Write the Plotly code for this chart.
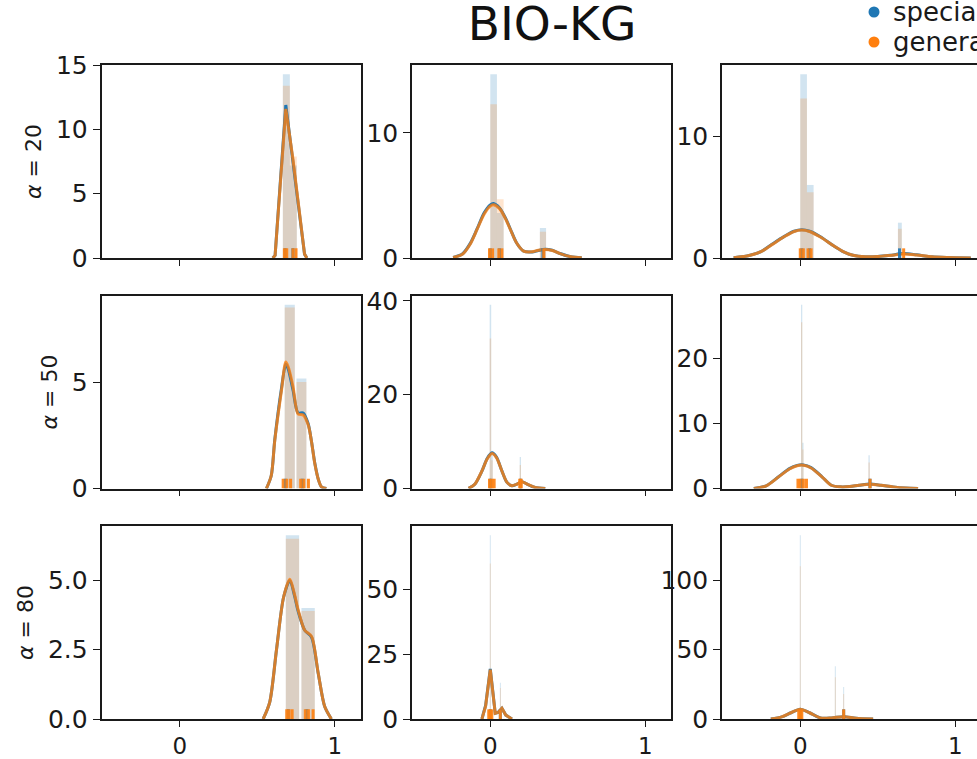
import plotly.graph_objects as go

# ---------------- data ----------------
row_alphas = [20, 50, 80]
group_names = ["specialized", "general"]
x_tick_vals = [0, 1]

# alpha = 20
bins_20_1 = [(0.665, 0.710), (0.710, 0.755)]
spec_hist_20_1 = [14.3, 7.2]
gen_hist_20_1 = [13.4, 7.9]
kde_x_20_1 = [0.600, 0.615, 0.684, 0.730, 0.805, 0.820]
spec_kde_20_1 = [0.0, 0.2, 11.9, 7.5, 0.3, 0.0]
gen_kde_20_1 = [0.0, 0.2, 11.6, 7.7, 0.3, 0.0]
spec_rug_20_1 = [0.680, 0.730]
gen_rug_20_1 = [0.675, 0.690, 0.730, 0.750]

bins_20_2 = [(0.0, 0.043), (0.043, 0.086), (0.32, 0.36)]
spec_hist_20_2 = [14.7, 3.6, 2.4]
gen_hist_20_2 = [12.3, 4.7, 2.1]
kde_x_20_2 = [-0.24, -0.18, -0.13, -0.086, -0.04, 0.0, 0.02, 0.06, 0.10, 0.13,
              0.17, 0.215, 0.27, 0.31, 0.355, 0.40, 0.45, 0.52, 0.59]
spec_kde_20_2 = [0.05, 0.32, 1.15, 2.3, 3.6, 4.25, 4.35, 4.0, 3.15, 2.3,
                 1.2, 0.55, 0.48, 0.6, 0.7, 0.62, 0.36, 0.1, 0.02]
gen_kde_20_2 = [0.05, 0.3, 1.1, 2.26, 3.5, 4.15, 4.26, 3.95, 3.1, 2.26,
                1.2, 0.55, 0.5, 0.62, 0.68, 0.6, 0.35, 0.1, 0.02]
spec_rug_20_2 = [0.0, 0.06, 0.34]
gen_rug_20_2 = [-0.005, 0.015, 0.055, 0.075, 0.345]

bins_20_3 = [(0.0, 0.043), (0.043, 0.086), (0.63, 0.655)]
spec_hist_20_3 = [15.1, 6.0, 2.9]
gen_hist_20_3 = [13.1, 5.4, 2.4]
kde_x_20_3 = [-0.43, -0.33, -0.25, -0.18, -0.10, -0.04, 0.01, 0.06, 0.13, 0.215,
              0.28, 0.34, 0.42, 0.50, 0.58, 0.667, 0.75, 0.85, 0.95, 1.10]
spec_kde_20_3 = [0.02, 0.2, 0.55, 1.15, 1.8, 2.2, 2.32, 2.2, 1.75, 1.0,
                 0.5, 0.22, 0.1, 0.12, 0.22, 0.36, 0.26, 0.1, 0.04, 0.0]
gen_kde_20_3 = [0.02, 0.2, 0.55, 1.12, 1.78, 2.18, 2.3, 2.18, 1.72, 1.0,
                0.5, 0.22, 0.1, 0.12, 0.21, 0.33, 0.25, 0.1, 0.04, 0.0]
spec_rug_20_3 = [0.01, 0.06, 0.64]
gen_rug_20_3 = [0.0, 0.02, 0.05, 0.07, 0.667]

# alpha = 50
bins_50_1 = [(0.677, 0.742), (0.753, 0.817)]
spec_hist_50_1 = [8.63, 5.16]
gen_hist_50_1 = [8.5, 5.0]
kde_x_50_1 = [0.559, 0.59, 0.613, 0.656, 0.684, 0.70, 0.731, 0.763, 0.796,
              0.828, 0.85, 0.871, 0.895, 0.914, 0.946]
spec_kde_50_1 = [0.0, 0.6, 2.3, 4.7, 5.85, 5.6, 4.6, 3.55, 3.55,
                 3.05, 2.2, 1.2, 0.4, 0.08, 0.0]
gen_kde_50_1 = [0.0, 0.6, 2.26, 4.6, 5.94, 5.7, 4.76, 3.5, 3.45,
                3.0, 2.2, 1.17, 0.4, 0.08, 0.0]
spec_rug_50_1 = [0.68, 0.79]
gen_rug_50_1 = [0.667, 0.69, 0.715, 0.78, 0.80, 0.83]

bins_50_2 = [(-0.004, 0.006), (0.006, 0.016), (0.19, 0.198)]
spec_hist_50_2 = [39.2, 8.0, 6.7]
gen_hist_50_2 = [32.0, 6.0, 5.0]
kde_x_50_2 = [-0.14, -0.10, -0.054, -0.02, 0.011, 0.04, 0.075, 0.108, 0.14,
              0.17, 0.204, 0.24, 0.29, 0.355]
spec_kde_50_2 = [0.02, 0.9, 3.7, 6.4, 7.6, 6.7, 3.75, 1.3, 0.6, 0.9, 1.45, 0.9, 0.2, 0.0]
gen_kde_50_2 = [0.02, 0.9, 3.73, 6.3, 7.46, 6.6, 3.73, 1.3, 0.6, 0.9, 1.42, 0.9, 0.2, 0.0]
spec_rug_50_2 = [0.0, 0.195]
gen_rug_50_2 = [-0.005, 0.01, 0.025, 0.19, 0.20]

bins_50_3 = [(0.005, 0.013), (0.013, 0.021), (0.44, 0.448)]
spec_hist_50_3 = [28.2, 7.0, 5.1]
gen_hist_50_3 = [25.5, 6.0, 4.0]
kde_x_50_3 = [-0.30, -0.22, -0.14, -0.07, -0.02, 0.02, 0.07, 0.14, 0.20, 0.26,
              0.32, 0.38, 0.45, 0.52, 0.60, 0.68, 0.76]
spec_kde_50_3 = [0.02, 0.42, 1.8, 3.05, 3.55, 3.62, 3.2, 1.8, 0.5, 0.25,
                 0.3, 0.5, 0.68, 0.5, 0.25, 0.08, 0.0]
gen_kde_50_3 = [0.02, 0.4, 1.78, 3.0, 3.5, 3.57, 3.15, 1.78, 0.5, 0.25,
                0.3, 0.5, 0.66, 0.5, 0.25, 0.08, 0.0]
spec_rug_50_3 = [0.01, 0.45]
gen_rug_50_3 = [-0.015, 0.0, 0.02, 0.04, 0.45]

# alpha = 80
bins_80_1 = [(0.684, 0.770), (0.785, 0.871)]
spec_hist_80_1 = [6.63, 4.0]
gen_hist_80_1 = [6.5, 3.9]
kde_x_80_1 = [0.538, 0.58, 0.624, 0.67, 0.71, 0.74, 0.763, 0.806, 0.85, 0.893, 0.935, 0.978]
spec_kde_80_1 = [0.0, 0.6, 2.5, 4.4, 5.0, 4.45, 3.9, 3.2, 2.95, 1.65, 0.45, 0.0]
gen_kde_80_1 = [0.0, 0.6, 2.5, 4.4, 5.04, 4.5, 3.95, 3.2, 2.98, 1.66, 0.45, 0.0]
spec_rug_80_1 = [0.70, 0.82]
gen_rug_80_1 = [0.69, 0.705, 0.725, 0.81, 0.83, 0.86]

bins_80_2 = [(-0.003, 0.003), (0.062, 0.068)]
spec_hist_80_2 = [70.9, 14.0]
gen_hist_80_2 = [60.0, 12.0]
kde_x_80_2 = [-0.054, -0.03, 0.0, 0.032, 0.05, 0.075, 0.10, 0.14]
spec_kde_80_2 = [0.0, 5.2, 19.3, 2.2, 2.5, 4.1, 1.5, 0.0]
gen_kde_80_2 = [0.0, 5.0, 19.0, 2.2, 2.5, 4.1, 1.5, 0.0]
spec_rug_80_2 = [0.0, 0.065]
gen_rug_80_2 = [-0.01, 0.0, 0.01, 0.065]

bins_80_3 = [(-0.003, 0.003), (0.223, 0.229), (0.277, 0.283)]
spec_hist_80_3 = [132.4, 38.0, 23.0]
gen_hist_80_3 = [110.0, 30.0, 18.0]
kde_x_80_3 = [-0.19, -0.12, -0.06, 0.0, 0.06, 0.13, 0.20, 0.28, 0.36, 0.47]
spec_kde_80_3 = [0.0, 1.5, 4.5, 7.1, 4.5, 0.8, 0.8, 1.7, 0.6, 0.0]
gen_kde_80_3 = [0.0, 1.5, 4.5, 7.0, 4.5, 0.8, 0.8, 1.7, 0.6, 0.0]
spec_rug_80_3 = [0.0, 0.28]
gen_rug_80_3 = [-0.01, 0.0, 0.01, 0.28]

y_ticks_20 = [[0, 5, 10, 15], [0, 10], [0, 10]]
y_ticks_50 = [[0, 5], [0, 20, 40], [0, 10, 20]]
y_ticks_80 = [[0.0, 2.5, 5.0], [0, 25, 50], [0, 50, 100]]

# ---------------- panel assembly ----------------
panels = [
    [(bins_20_1, spec_hist_20_1, gen_hist_20_1, kde_x_20_1, spec_kde_20_1, gen_kde_20_1, spec_rug_20_1, gen_rug_20_1),
     (bins_20_2, spec_hist_20_2, gen_hist_20_2, kde_x_20_2, spec_kde_20_2, gen_kde_20_2, spec_rug_20_2, gen_rug_20_2),
     (bins_20_3, spec_hist_20_3, gen_hist_20_3, kde_x_20_3, spec_kde_20_3, gen_kde_20_3, spec_rug_20_3, gen_rug_20_3)],
    [(bins_50_1, spec_hist_50_1, gen_hist_50_1, kde_x_50_1, spec_kde_50_1, gen_kde_50_1, spec_rug_50_1, gen_rug_50_1),
     (bins_50_2, spec_hist_50_2, gen_hist_50_2, kde_x_50_2, spec_kde_50_2, gen_kde_50_2, spec_rug_50_2, gen_rug_50_2),
     (bins_50_3, spec_hist_50_3, gen_hist_50_3, kde_x_50_3, spec_kde_50_3, gen_kde_50_3, spec_rug_50_3, gen_rug_50_3)],
    [(bins_80_1, spec_hist_80_1, gen_hist_80_1, kde_x_80_1, spec_kde_80_1, gen_kde_80_1, spec_rug_80_1, gen_rug_80_1),
     (bins_80_2, spec_hist_80_2, gen_hist_80_2, kde_x_80_2, spec_kde_80_2, gen_kde_80_2, spec_rug_80_2, gen_rug_80_2),
     (bins_80_3, spec_hist_80_3, gen_hist_80_3, kde_x_80_3, spec_kde_80_3, gen_kde_80_3, spec_rug_80_3, gen_rug_80_3)],
]
y_ticks = [y_ticks_20, y_ticks_50, y_ticks_80]

# ---------------- styling ----------------
W, H = 977, 759
BLUE = (31, 119, 180)
ORANGE = (255, 127, 14)
HIST_ALPHA = 0.2
INK = "#1a1a1a"
FONT = "DejaVu Sans"
TICK_SIZE = 25
X_TICK_SIZE = 23

col_px = [(101.5, 360.5), (412.0, 671.0), (722.0, 977.0)]
row_px = [(65.0, 258.0), (295.5, 488.5), (526.0, 719.0)]
x_left = -0.505
px_per_unit = 155.0
linear_panels = {(0, 0), (2, 1)}


def rgba(c, a):
    return f"rgba({c[0]},{c[1]},{c[2]},{a})"


fig = go.Figure()
layout_axes = {}

for r in range(3):
    for c in range(3):
        idx = r * 3 + c + 1
        xs = "x" if idx == 1 else f"x{idx}"
        ys = "y" if idx == 1 else f"y{idx}"
        bins, sh, gh, kx, sk, gk, sr, gr = panels[r][c]
        centers = [(a + b) / 2 for a, b in bins]
        widths = [b - a for a, b in bins]
        y_top = 1.05 * max(sh + gh + sk + gk)
        rug_h = 0.05 * y_top

        # overlaid density histograms
        for heights, col in ((sh, BLUE), (gh, ORANGE)):
            fig.add_trace(go.Bar(
                x=centers, y=heights, width=widths, xaxis=xs, yaxis=ys,
                marker=dict(color=rgba(col, HIST_ALPHA), line=dict(width=0)),
                showlegend=False, hoverinfo="skip"))

        # kernel density curves
        shape = "linear" if (r, c) in linear_panels else "spline"
        for ky, col, alpha, lw in ((sk, BLUE, 1.0, 3.0), (gk, ORANGE, 0.8, 3.0)):
            fig.add_trace(go.Scatter(
                x=kx, y=ky, xaxis=xs, yaxis=ys, mode="lines",
                line=dict(color=rgba(col, alpha), width=lw, shape=shape, smoothing=0.8),
                showlegend=False, hoverinfo="skip"))

        # rug ticks along the baseline
        for rug, col in ((sr, BLUE), (gr, ORANGE)):
            rx, ry = [], []
            for v in rug:
                rx += [v, v, None]
                ry += [0, rug_h, None]
            fig.add_trace(go.Scatter(
                x=rx, y=ry, xaxis=xs, yaxis=ys, mode="lines",
                line=dict(color=rgba(col, 0.9), width=3),
                showlegend=False, hoverinfo="skip"))

        x0, x1 = col_px[c]
        y0, y1 = row_px[r]
        x_right = x_left + (x1 - x0) / px_per_unit
        last_col = c == 2
        xname = "xaxis" if idx == 1 else f"xaxis{idx}"
        yname = "yaxis" if idx == 1 else f"yaxis{idx}"
        layout_axes[xname] = dict(
            domain=[x0 / W, x1 / W], anchor=ys, range=[x_left, x_right],
            tickvals=x_tick_vals, showticklabels=(r == 2),
            ticks="outside", ticklen=6, tickwidth=1.4, tickcolor=INK,
            showline=True, linecolor=INK, linewidth=1.6, mirror=True,
            showgrid=False, zeroline=False,
            tickfont=dict(family=FONT, size=X_TICK_SIZE, color=INK))
        yax = dict(
            domain=[1 - y1 / H, 1 - y0 / H], anchor=xs, range=[0, y_top],
            tickvals=y_ticks[r][c],
            ticks="outside", ticklen=7, tickwidth=1.4, tickcolor=INK,
            showline=True, linecolor=INK, linewidth=1.6, mirror=not last_col,
            showgrid=False, zeroline=False,
            tickfont=dict(family=FONT, size=TICK_SIZE, color=INK))
        if r == 2 and c == 0:
            yax["tickformat"] = ".1f"
        if c == 0:
            yax["title"] = dict(text=f"<i>α</i> = {row_alphas[r]}", standoff=8,
                                font=dict(family=FONT, size=22, color=INK))
        layout_axes[yname] = yax

fig.update_layout(**layout_axes)

# legend drawn as markers + labels in the top-right corner
legend_rows = [(12, BLUE, group_names[0]), (42, ORANGE, group_names[1])]
shapes, annotations = [], []
for ypx, col, name in legend_rows:
    cx, rad = 874, 5.5
    shapes.append(dict(type="circle", xref="paper", yref="paper",
                       x0=(cx - rad) / W, x1=(cx + rad) / W,
                       y0=1 - (ypx + rad) / H, y1=1 - (ypx - rad) / H,
                       fillcolor=rgba(col, 1), line=dict(width=0)))
    annotations.append(dict(text=name, xref="paper", yref="paper",
                            x=891 / W, y=1 - ypx / H, xanchor="left", yanchor="middle",
                            showarrow=False,
                            font=dict(family=FONT, size=26, color=INK)))

fig.update_layout(
    width=W, height=H,
    margin=dict(l=0, r=0, t=0, b=0, autoexpand=False),
    paper_bgcolor="white", plot_bgcolor="white",
    barmode="overlay", showlegend=False,
    title=dict(text="BIO-KG", x=552 / W, y=1 - 24 / H, xanchor="center", yanchor="middle",
               font=dict(family=FONT, size=47, color="#111111")),
    shapes=shapes, annotations=annotations,
)

fig.write_html("out.html")
